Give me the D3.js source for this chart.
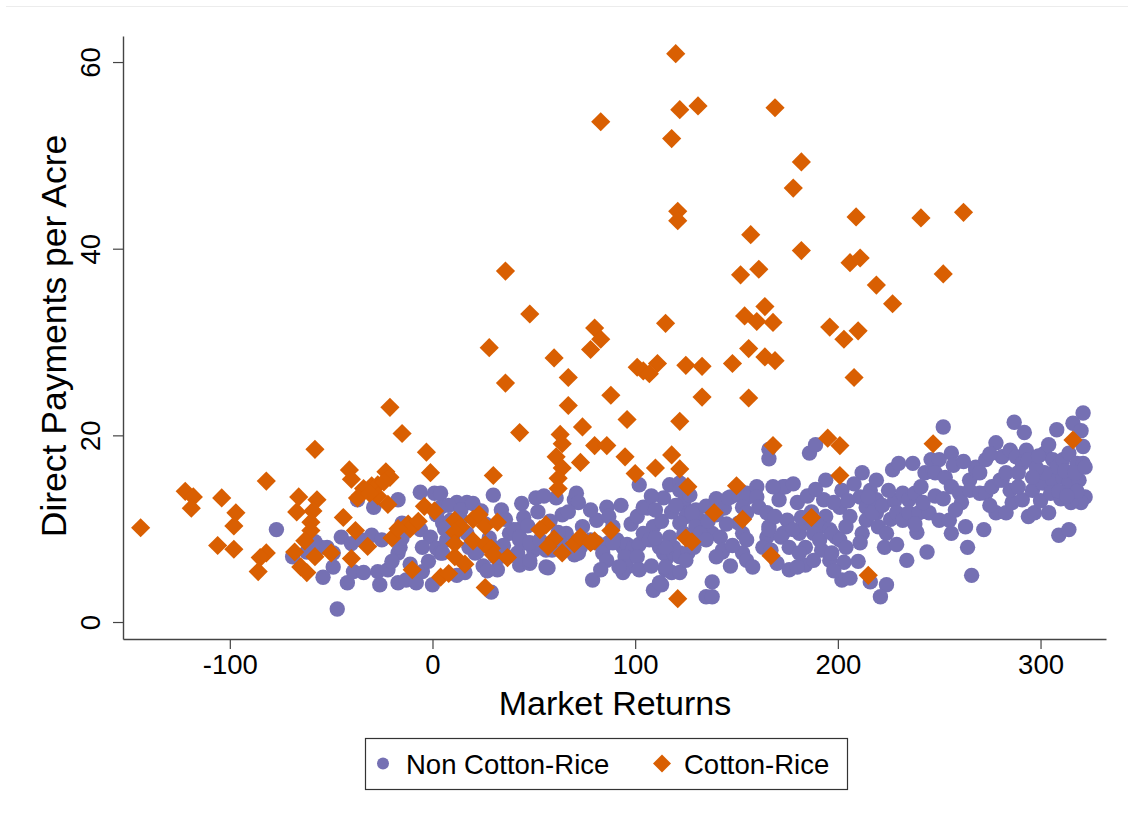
<!DOCTYPE html>
<html>
<head>
<meta charset="utf-8">
<script src="https://cdn.jsdelivr.net/npm/d3@7"></script>
<style>
  html, body { margin: 0; padding: 0; background: #fff; }
  svg { display: block; font-family: "Liberation Sans", Arial, sans-serif; }
</style>
</head>
<body>
<svg id="chart" width="1128" height="824"></svg>
<script>
// values: [market returns, direct payments per acre]
const nonCottonRice = [
  [-77,9.9],[-47,1.4],[-54,4.8],[-49,5.9],[-42,4.2],[-39,5.4],[-34,5.3],[-27,5.4],[-26,4.0],[-22,5.6],[-17,4.2],[-13,4.5],[-8,4.2],[-5,5.4],[0,4.0],
  [-17,7.4],[-16,8.0],[-15,9.0],[-14,9.6],[-6,13.9],[1,13.8],[-17,13.1],[-37,13.1],[-29,12.3],[4,12.3],[5,10.6],[-6,9.9],[-1,9.1],[-5,8.0],[2,7.9],[4,7.4],[-15,10.6],[-49,7.4],[-69,7.0],[-59,8.5],[-55,8.0],
  [-58,8.6],[-52,8.0],[-45,9.1],[-40,8.4],[-35,8.8],[-30,9.3],[-25,8.8],[-62,7.5],[-11,6.2],[-20,6.5],[-2,6.5],
  [4,13.8],[12,12.8],[17,12.8],[9,10.9],[7,8.8],[5,7.4],[16,5.3],[21,7.4],[30,13.6],[34,12.0],[32,5.6],[31,7.0],[29,3.2],
  [38,9.5],[42,9.9],[43,8.8],[42,7.4],[37,7.0],[43,6.1],[48,6.3],[50,7.7],[53,8.5],[46,8.5],
  [51,13.3],[57,5.8],[61,13.3],[70,13.1],[71,13.8],[72,12.8],[66,9.5],[63,8.5],[59,7.7],[70,7.2],[73,8.0],[74,10.2],[81,10.9],
  [78,8.8],[81,8.5],[84,8.0],[87,8.5],[91,8.8],[86,12.3],[87,11.3],[89,10.2],[84,7.4],[86,6.6],[79,4.5],[83,5.6],
  [94,8.0],[96,8.3],[99,8.0],[102,8.3],[95,7.0],[96,5.9],[94,5.3],
  [40,9.9],[43,9.1],[48,8.5],[53,8.8],[56,7.7],[59,8.0],[48,6.6],[56,5.9],[69,8.0],[72,7.4],[89,8.5],[92,5.9],
  [2,11.5],[8,12.5],[14,12.0],[10,9.0],[17,9.5],[20,12.7],[24,11.9],[18,8.0],[22,7.5],[25,6.0],[12,5.0],[27,5.5],[30,8.0],[33,7.0],[44,12.7],[55,13.5],[26,10.5],[36,11.0],[64,11.5],[78,12.0],[93,12.5],[98,10.5],
  [6,10.0],[14,11.0],[28,9.0],[35,8.2],[45,11.2],[47,10.3],[52,11.8],[58,10.8],[62,9.6],[67,11.8],
  [101,11.3],[104,12.3],[106,12.2],[102,14.7],[101,7.0],[102,5.6],[109,10.2],
  [112,8.0],[114,7.4],[116,7.0],[119,7.4],[122,7.4],[109,3.4],[113,4.0],[114,13.3],[117,14.7],[122,14.9],[115,5.6],[118,5.3],[122,5.3],[117,9.1],[119,8.0],
  [124,12.8],[126,11.7],[130,12.0],[125,11.3],[122,10.6],[124,9.5],[132,10.9],[133,9.9],[138,9.5],[142,9.1],[143,7.5],[138,4.3],[135,2.7],[138,2.7],
  [147,13.4],[155,13.8],[160,14.5],[115,8.0],[115,5.9],[122,7.0],[126,7.4],[125,6.6],[128,11.7],[130,10.2],[132,9.5],[135,8.8],[143,7.7],[112,4.2],[122,14.1],
  [104,9.5],[107,8.8],[110,9.0],[113,10.8],[118,11.8],[120,12.5],[127,13.6],[135,12.4],[140,13.2],[144,12.2],[136,10.8],[129,8.0],[140,7.0],[147,6.0],[108,13.5],
  [146,13.3],[151,13.6],[155,13.3],[153,12.3],[155,11.7],[151,10.6],[153,9.5],[155,8.8],[153,7.4],[155,6.6],[158,5.9],
  [160,13.4],[161,12.3],[165,11.7],[166,10.2],[165,9.1],[163,8.0],[167,7.7],[166,17.5],[166,18.5],[145,10.5],[148,8.2],[140,11.5],[110,12.0],[108,6.0],
  [173,14.5],[171,13.1],[180,12.8],[169,11.3],[175,10.9],[166,9.9],[173,9.5],[170,6.3],[176,5.6],[184,6.1],[181,9.5],[184,8.0],[186,18.1],[189,19.0],
  [193,13.1],[194,15.2],[194,11.3],[191,10.2],[196,9.9],[199,9.1],[192,7.7],[196,6.6],[203,6.4],[201,12.3],[206,11.3],[204,10.2],[202,4.5],[206,4.7],[202,14.1],
  [212,16.0],[211,13.4],[214,12.3],[214,10.9],[212,9.5],[211,8.5],[216,14.1],[219,15.2],[219,13.1],[219,11.7],[220,10.2],[224,9.5],[216,4.3],[224,4.0],[221,2.7],[223,8.0],[229,8.3],
  [174,14.5],[178,9.9],[172,9.1],[176,8.0],[181,7.4],[180,5.9],[184,10.6],[188,9.5],[191,8.8],[197,9.5],[201,8.8],[204,8.0],[197,7.4],[188,6.6],[215,13.4],[217,11.7],
  [168,14.5],[178,14.8],[185,13.5],[187,11.8],[198,12.8],[205,13.0],[208,14.8],[222,12.5],[226,11.0],[228,13.0],[210,6.5],[198,5.5],[189,14.2],[182,11.2],
  [227,16.3],[230,17.0],[237,17.0],[225,14.1],[232,13.8],[235,13.1],[238,13.8],[241,14.5],[243,16.0],[247,16.3],
  [229,11.7],[232,10.9],[235,11.7],[240,11.7],[245,11.7],[250,10.9],[255,10.9],[234,6.6],[239,9.6],[244,7.5],[256,9.5],
  [246,17.4],[250,17.4],[252,20.9],[256,18.1],[248,16.0],[253,15.5],[256,14.5],[260,13.8],[261,12.8],[265,15.2],[268,16.3],
  [265,14.1],[270,13.8],[273,13.8],[276,14.5],[280,15.2],[263,10.2],[264,8.0],[266,5.0],[272,9.9],
  [268,16.6],[273,17.4],[278,19.2],[281,17.7],[285,18.4],[288,17.7],[291,17.0],[293,18.4],[294,17.4],
  [278,11.7],[283,11.7],[286,12.8],[291,13.1],[294,11.3],[297,11.7],[304,11.7],
  [281,15.2],[285,14.1],[289,14.5],[296,14.1],[301,14.9],[306,15.2],[311,15.5],[314,14.9],[319,15.2],[322,13.4],[320,12.8],
  [287,21.4],[292,20.3],[302,18.1],[306,17.4],[308,16.6],[311,17.4],[314,18.1],[318,17.0],[321,17.0],[321,18.8],[321,22.4],[316,21.3],[308,20.6],[309,9.3],[314,9.9],
  [300,13.0],[305,13.8],[310,13.2],[315,12.8],[318,14.0],[302,16.0],[312,16.2],[298,16.5],[275,12.5],[258,12.0],[242,12.8],[238,10.5],[248,13.5],
  [252,13.2],[257,16.8],[262,17.2],[270,16.0],[275,18.0],[283,16.0],[289,16.0],[296,15.5],[299,17.8],[304,19.0],[309,14.0],[313,13.5],[317,16.0],[322,16.6],[320,20.5]
];

const cottonRice = [
  [120,60.9],[122,54.9],[131,55.3],[169,55.1],[83,53.6],[118,51.8],[178,46.5],[182,49.3],[121,44.0],[121,43.0],
  [209,43.4],[241,43.3],[262,43.9],[157,41.5],[182,39.8],[206,38.5],[211,39.0],[161,37.8],[152,37.2],[36,37.6],
  [252,37.3],[219,36.1],[227,34.1],[164,33.8],[48,33.0],[154,32.8],[160,32.2],[168,32.1],[115,32.0],[196,31.6],
  [210,31.2],[80,31.5],[83,30.3],[78,29.2],[203,30.3],[156,29.3],[28,29.4],[60,28.3],[164,28.4],[169,28.0],
  [111,27.7],[148,27.7],[101,27.3],[125,27.5],[133,27.4],[104,26.9],[107,26.6],[67,26.2],[208,26.2],[36,25.6],
  [156,24.0],[88,24.3],[133,24.1],[67,23.2],[-21,23.0],[96,21.7],[122,21.5],[74,20.9],[-15,20.2],[43,20.3],
  [63,20.1],[64,19.1],[80,18.9],[86,18.9],[168,18.9],[195,19.7],[201,18.9],[247,19.1],[316,19.5],[118,17.9],
  [-58,18.5],[-3,18.2],[61,17.7],[95,17.7],[73,17.1],[122,16.4],[110,16.5],[64,16.5],[-41,16.3],[-23,16.1],
  [-1,16.0],[30,15.7],[100,15.9],[201,15.7],[-40,15.3],[-21,15.5],[62,15.4],[-82,15.1],[-30,14.6],[-27,14.7],
  [-24,15.0],[-34,14.3],[-122,14.0],[-118,13.4],[-104,13.3],[-66,13.4],[-57,13.1],[-37,13.3],[-27,13.5],[-22,12.6],
  [-31,13.8],[62,14.3],[126,14.5],[150,14.6],[-4,12.4],[1,11.9],[-119,12.2],[-59,11.9],[-67,11.8],[20,11.0],
  [23,11.5],[11,10.9],[14,10.2],[26,10.3],[32,10.7],[56,10.4],[139,11.7],[153,11.0],[187,11.2],[-97,11.7],
  [-98,10.3],[-44,11.2],[-12,10.5],[-60,10.7],[-38,9.8],[-11,10.0],[-7,10.8],[11,9.6],[20,8.7],[53,9.9],
  [60,8.9],[70,8.4],[73,9.1],[80,8.7],[88,9.8],[125,9.0],[128,8.6],[78,8.5],[57,8.1],[-60,9.8],
  [-63,8.7],[-20,9.0],[-17,10.0],[11,8.4],[26,8.3],[29,7.9],[30,7.2],[37,6.9],[-106,8.2],[-98,7.8],
  [-32,8.1],[64,7.4],[-82,7.4],[-85,6.9],[-68,7.5],[-50,7.4],[-58,7.0],[11,7.0],[16,6.2],[-40,6.8],
  [-65,5.9],[-62,5.3],[-86,5.4],[-10,5.6],[4,4.8],[8,5.2],[26,3.7],[-144,10.1],[167,7.1],[215,5.0],
  [121,2.5]
];

const seriesNames = ["Non Cotton-Rice", "Cotton-Rice"];
const xTickValues = [-100, 0, 100, 200, 300];
const yTickValues = [0, 20, 40, 60];

const purple = "#7570b3";
const orange = "#d95f02";
const axisColor = "#444";

const svg = d3.select("#chart");

// faint outer frame line at the top
svg.append("line")
    .attr("x1", 6).attr("x2", 1128)
    .attr("y1", 6.5).attr("y2", 6.5)
    .attr("stroke", "#ececec")
    .attr("stroke-width", 1);

const x = d3.scaleLinear().domain([-152.7, 332.3]).range([123, 1106]);
const y = d3.scaleLinear().domain([-1.82, 62.79]).range([639, 36]);

// x axis
const xAxis = svg.append("g")
    .attr("transform", "translate(0,639)")
    .call(d3.axisBottom(x).tickValues(xTickValues).tickSize(10).tickSizeOuter(0));
xAxis.select(".domain").attr("stroke", axisColor).attr("stroke-width", 1.4);
xAxis.selectAll(".tick line").attr("stroke", axisColor).attr("stroke-width", 1.2);
xAxis.selectAll(".tick text")
    .attr("fill", "#000")
    .attr("font-size", 27.5)
    .attr("y", 15)
    .attr("dy", "0.71em")
    .text(d => d < 0 ? "-" + Math.abs(d) : d);

// y axis, labels rotated like Stata does
const yAxis = svg.append("g")
    .attr("transform", "translate(123,0)")
    .call(d3.axisLeft(y).tickValues(yTickValues).tickSize(10).tickSizeOuter(0));
yAxis.select(".domain").attr("stroke", axisColor).attr("stroke-width", 1.4);
yAxis.selectAll(".tick line").attr("stroke", axisColor).attr("stroke-width", 1.2);
yAxis.selectAll(".tick text")
    .attr("fill", "#000")
    .attr("font-size", 27.5)
    .attr("text-anchor", "middle")
    .attr("transform", "rotate(-90)")
    .attr("x", 0)
    .attr("y", -23)
    .attr("dy", null);

// axis titles
svg.append("text")
    .attr("x", 615)
    .attr("y", 715)
    .attr("text-anchor", "middle")
    .attr("font-size", 34)
    .text("Market Returns");

svg.append("text")
    .attr("transform", "translate(66,336) rotate(-90)")
    .attr("text-anchor", "middle")
    .attr("font-size", 35.5)
    .text("Direct Payments per Acre");

// points
const diamond = d3.symbol().type(d3.symbolSquare).size(184);

svg.append("g")
    .selectAll("circle")
    .data(nonCottonRice)
    .join("circle")
    .attr("cx", d => x(d[0]))
    .attr("cy", d => y(d[1]))
    .attr("r", 7.7)
    .attr("fill", purple);

svg.append("g")
    .selectAll("path")
    .data(cottonRice)
    .join("path")
    .attr("d", diamond)
    .attr("transform", d => `translate(${x(d[0])},${y(d[1])}) rotate(45)`)
    .attr("fill", orange);

// legend
const legend = svg.append("g");
legend.append("rect")
    .attr("x", 365.5).attr("y", 738.5)
    .attr("width", 482).attr("height", 51)
    .attr("fill", "#fff")
    .attr("stroke", "#333")
    .attr("stroke-width", 1.2);

legend.append("circle")
    .attr("cx", 383).attr("cy", 763.5)
    .attr("r", 6)
    .attr("fill", purple);
legend.append("text")
    .attr("x", 406).attr("y", 774)
    .attr("font-size", 27.5)
    .text(seriesNames[0]);

legend.append("path")
    .attr("d", d3.symbol().type(d3.symbolSquare).size(162))
    .attr("transform", "translate(662,763.5) rotate(45)")
    .attr("fill", orange);
legend.append("text")
    .attr("x", 684).attr("y", 774)
    .attr("font-size", 27.5)
    .text(seriesNames[1]);
</script>
</body>
</html>
